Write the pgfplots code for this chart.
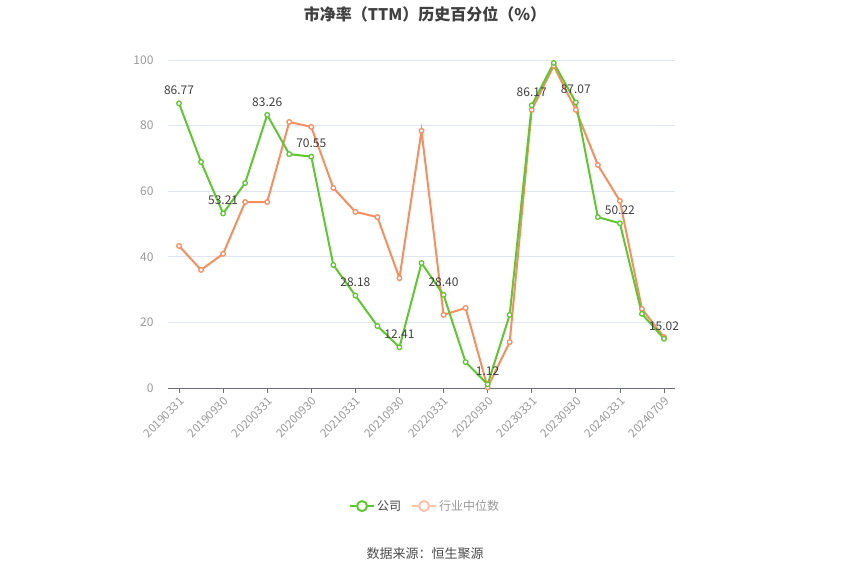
\documentclass[border=0pt]{standalone}
\usepackage{pgfplots}
\pgfplotsset{compat=1.18}
\usepackage{fontspec}
\setmainfont{Noto Sans CJK SC}
\definecolor{cgreen}{HTML}{5CC92C}
\definecolor{corange}{HTML}{F98D5C}
\definecolor{corangel}{HTML}{FDC3AA}
\definecolor{gridc}{HTML}{E0E6F1}
\definecolor{tickc}{HTML}{999999}
\definecolor{axisc}{HTML}{6E7079}
\begin{document}
\begin{tikzpicture}
\path[use as bounding box] (0pt,0pt) rectangle (850pt,575pt);
\begin{axis}[
  at={(168pt,187pt)}, anchor=south west,
  width=507pt, height=328pt, scale only axis,
  xmin=-0.5, xmax=22.5, ymin=0, ymax=100,
  /pgf/number format/assume math mode=true,
  axis lines*=left,
  y axis line style={draw=none},
  x axis line style={draw=axisc, line width=0.8pt},
  ytick={0,20,40,60,80,100},
  ymajorgrids, grid style={gridc, line width=0.6pt},
  ytick style={draw=none},
  xtick={0,2,4,6,8,10,12,14,16,18,20,22},
  xticklabels={20190331,20190930,20200331,20200930,20210331,20210930,20220331,20220930,20230331,20230930,20240331,20240709},
  tick align=outside,
  xtick style={draw=axisc, line width=0.8pt},
  major tick length=5pt,
  x tick label style={rotate=45, anchor=north east, font=\fontsize{11.5}{12}\selectfont, text=tickc, inner sep=2pt},
  y tick label style={font=\fontsize{12}{12}\selectfont, text=tickc},
  yticklabel style={xshift=-6pt},
  clip=false,
  legend style={at={(0.507,-0.36)}, anchor=center, draw=none, legend columns=2, font=\fontsize{12}{12}\selectfont, /tikz/every even column/.append style={column sep=8pt}},
  legend cell align=left,
]
\addplot[corange, line width=2pt, mark=*, mark size=2.3pt, mark options={fill=white, line width=1.3pt}, forget plot] coordinates {
(0,43.3)(1,36.0)(2,40.9)(3,56.7)(4,56.7)(5,81.1)(6,79.6)(7,61.0)(8,53.7)(9,52.1)(10,33.5)(11,78.4)(12,22.3)(13,24.4)(14,0.2)(15,14.0)(16,84.8)(17,98.2)(18,84.8)(19,68.0)(20,57.0)(21,24.1)(22,15.5)
};
\addplot[cgreen, line width=2pt, mark=*, mark size=2.3pt, mark options={fill=white, line width=1.3pt}, forget plot] coordinates {
(0,86.77)(1,68.9)(2,53.21)(3,62.5)(4,83.26)(5,71.3)(6,70.55)(7,37.5)(8,28.18)(9,18.9)(10,12.41)(11,38.1)(12,28.40)(13,7.9)(14,1.12)(15,22.3)(16,86.17)(17,99.1)(18,87.07)(19,52.1)(20,50.22)(21,22.6)(22,15.02)
};
\addplot[draw=none, mark=none, forget plot, point meta=explicit symbolic,
  nodes near coords, nodes near coords style={font=\fontsize{12}{12}\selectfont, text=black!75, anchor=south, yshift=5pt}] coordinates {
(0,86.77)[86.77](2,53.21)[53.21](4,83.26)[83.26](6,70.55)[70.55](8,28.18)[28.18](10,12.41)[12.41](12,28.40)[28.40](14,1.12)[1.12](16,86.17)[86.17](18,87.07)[87.07](20,50.22)[50.22](22,15.02)[15.02]
};
\addlegendimage{legend image code/.code={\draw[cgreen, line width=2pt] (0pt,0pt)--(24pt,0pt); \draw[cgreen, line width=2pt, fill=white] (12pt,0pt) circle (5pt);}}
\addlegendentry{\textcolor{black!75}{公司}}
\addlegendimage{legend image code/.code={\draw[corangel, line width=2pt] (0pt,0pt)--(24pt,0pt); \draw[corangel, line width=2pt, fill=white] (12pt,0pt) circle (5pt);}}
\addlegendentry{\textcolor{tickc}{行业中位数}}
\end{axis}
\node[font=\bfseries\fontsize{16}{16}\selectfont, text=black!75] at (425pt,561pt) {市净率（TTM）历史百分位（\%）};
\node[font=\fontsize{13}{13}\selectfont, text=black!70] at (425pt,21pt) {数据来源：恒生聚源};
\end{tikzpicture}
\end{document}
